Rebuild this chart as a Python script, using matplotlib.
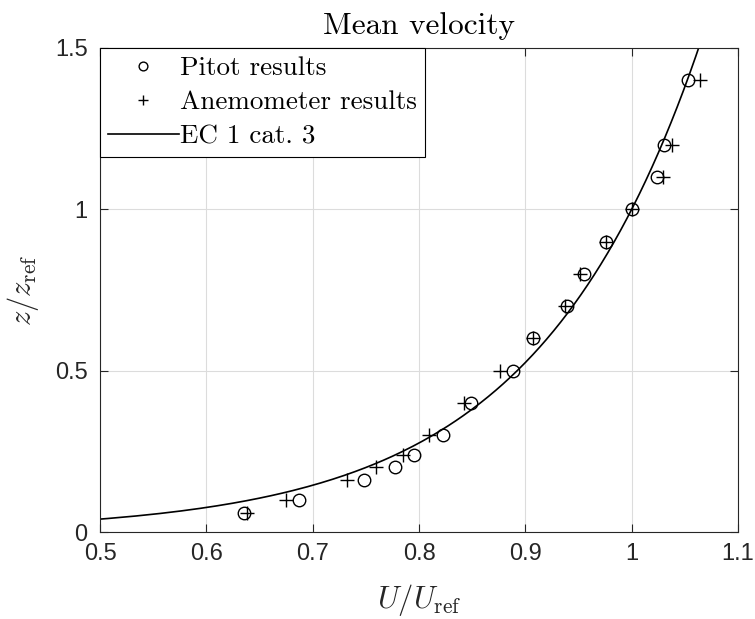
import numpy as np
import matplotlib
matplotlib.use("Agg")
import matplotlib.pyplot as plt

# measured heights (z/zref)
z_pitot = [0.06, 0.10, 0.16, 0.20, 0.24, 0.30, 0.40, 0.50, 0.60, 0.70, 0.80, 0.90, 1.00, 1.10, 1.20, 1.40]
u_pitot = [0.635, 0.687, 0.748, 0.777, 0.795, 0.823, 0.849, 0.888, 0.907, 0.939, 0.955, 0.976, 1.000, 1.024, 1.030, 1.053]

z_anem = [0.06, 0.10, 0.16, 0.20, 0.24, 0.30, 0.40, 0.50, 0.60, 0.70, 0.80, 0.90, 1.00, 1.10, 1.20, 1.40]
u_anem = [0.638, 0.675, 0.732, 0.760, 0.785, 0.809, 0.842, 0.876, 0.907, 0.937, 0.951, 0.976, 1.000, 1.029, 1.038, 1.064]

# Eurocode 1, terrain category 3: log law, roughness length relative to zref
z0_rel = 0.0016

GRIS = (0.15, 0.15, 0.15)
plt.rcParams["mathtext.fontset"] = "cm"

fig = plt.figure(figsize=(7.55, 6.19), dpi=100)
ax = fig.add_axes([0.1325, 0.1405, 0.845, 0.782])

z_ec = np.linspace(0.03, 1.6, 400)
u_ec = np.log(z_ec / z0_rel) / np.log(1.0 / z0_rel)

ax.plot(u_pitot, z_pitot, "o", mfc="none", mec="k", ms=9, mew=1.0, label="Pitot results")
ax.plot(u_anem, z_anem, "+", color="k", ms=10, mew=1.0, label="Anemometer results")
ax.plot(u_ec, z_ec, "-", color="k", lw=1.2, label="EC 1 cat. 3")

ax.set_xlim(0.5, 1.1)
ax.set_ylim(0, 1.5)
ax.set_xticks([0.5, 0.6, 0.7, 0.8, 0.9, 1.0, 1.1])
ax.set_xticklabels(["0.5", "0.6", "0.7", "0.8", "0.9", "1", "1.1"])
ax.set_yticks([0, 0.5, 1.0, 1.5])
ax.set_yticklabels(["0", "0.5", "1", "1.5"])
ax.tick_params(direction="in", top=True, right=True, labelsize=17, colors=GRIS, length=6)
ax.tick_params(axis="x", pad=8)
ax.tick_params(axis="y", pad=9)
for lab in ax.get_xticklabels() + ax.get_yticklabels():
    lab.set_fontfamily("Liberation Sans")
    lab.set_color(GRIS)
for s in ax.spines.values():
    s.set_color(GRIS)
    s.set_linewidth(0.8)
ax.grid(True, color="#dcdcdc", lw=0.8)
ax.set_axisbelow(True)

ax.set_xlabel(r"$U/U_{\mathrm{ref}}$", fontsize=22, color=GRIS, labelpad=12)
ax.set_ylabel(r"$z/z_{\mathrm{ref}}$", fontsize=22, color=GRIS, labelpad=10)
ax.set_title("Mean velocity", fontsize=22.5, family="cmr10", color="k", pad=10)

leg = ax.legend(loc="upper left", prop={"family": "cmr10", "size": 19.5}, frameon=True,
                fancybox=False, borderaxespad=0, handlelength=2.6, handletextpad=0.05,
                labelspacing=0.38, borderpad=0.3, markerscale=0.7)
leg.get_frame().set_edgecolor("k")
leg.get_frame().set_linewidth(0.8)
leg.get_frame().set_alpha(1)

fig.savefig("out.png", dpi=100)
